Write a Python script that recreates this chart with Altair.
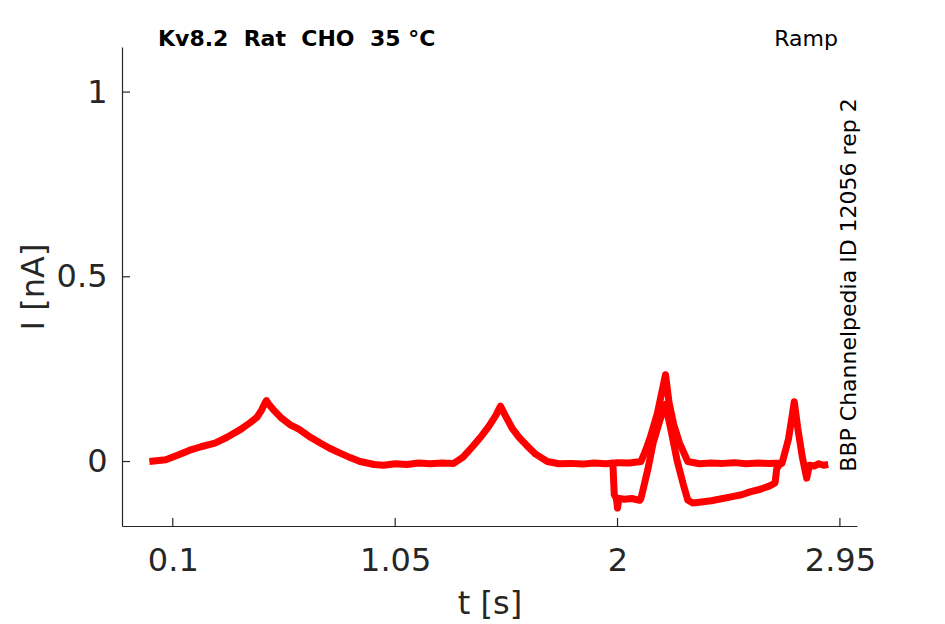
import altair as alt
import pandas as pd

# Trace A (full sweep)
tA = [0.0, 0.03, 0.07, 0.12, 0.17, 0.22, 0.28, 0.33, 0.39, 0.43, 0.46, 0.48, 0.495, 0.5, 0.51, 0.53,
      0.56, 0.60, 0.64, 0.69, 0.73, 0.77, 0.81, 0.86, 0.90, 0.96, 1.0, 1.05, 1.1, 1.15, 1.2, 1.25,
      1.30, 1.34, 1.38, 1.42, 1.45, 1.48, 1.50, 1.52, 1.55, 1.58, 1.61, 1.65, 1.70, 1.75, 1.8,
      1.85, 1.9, 1.95, 2.0, 2.05, 2.1, 2.12, 2.14, 2.17, 2.19, 2.205, 2.22, 2.24, 2.265, 2.3,
      2.35, 2.4, 2.45, 2.5, 2.55, 2.6, 2.65, 2.703, 2.73, 2.745, 2.755, 2.77, 2.79, 2.808, 2.82,
      2.84, 2.86, 2.88, 2.9]
iA = [0.0, 0.002, 0.005, 0.017, 0.03, 0.04, 0.05, 0.065, 0.087, 0.105, 0.12, 0.14, 0.16, 0.165, 0.155, 0.14,
      0.12, 0.10, 0.087, 0.065, 0.05, 0.036, 0.024, 0.01, 0.0, -0.008, -0.01, -0.006, -0.008, -0.004, -0.006, -0.004,
      -0.005, 0.012, 0.04, 0.07, 0.095, 0.125, 0.15, 0.125, 0.09, 0.065, 0.045, 0.02, 0.0, -0.006, -0.005,
      -0.007, -0.004, -0.006, -0.003, -0.004, 0.0, 0.03, 0.066, 0.13, 0.19, 0.235, 0.16, 0.1, 0.05, 0.0,
      -0.006, -0.004, -0.005, -0.003, -0.006, -0.004, -0.005, -0.004, 0.06, 0.12, 0.162, 0.09, 0.01, -0.045, -0.01,
      -0.012, -0.006, -0.01, -0.008]

# Trace B (differs between about 1.98 s and 2.7 s)
tB = [1.97, 1.98, 1.986, 1.995, 2.0, 2.006, 2.03, 2.06, 2.095, 2.1, 2.13, 2.152, 2.18, 2.205,
      2.23, 2.254, 2.28, 2.3, 2.32, 2.35, 2.4, 2.45, 2.49, 2.53, 2.566, 2.61, 2.65, 2.673, 2.68, 2.69, 2.703]
iB = [-0.004, -0.005, -0.09, -0.1, -0.126, -0.1, -0.102, -0.1, -0.105, -0.1, -0.02, 0.05, 0.11, 0.155,
      0.08, 0.004, -0.06, -0.104, -0.112, -0.11, -0.106, -0.1, -0.095, -0.09, -0.082, -0.075, -0.066, -0.058, -0.02, -0.01, -0.004]

x_ticks = [0.1, 1.05, 2, 2.95]
y_ticks = [0, 0.5, 1]

NB = "\u00a0"
title_text = "Kv8.2" + NB * 2 + "Rat" + NB * 2 + "CHO" + NB * 2 + "35 °C"
protocol_text = "Ramp"
side_text = "BBP Channelpedia ID 12056 rep 2"

W, H = 735, 479
INK = "#262626"
FONT = "DejaVu Sans"

df = pd.concat([
    pd.DataFrame({"t": tA, "I": iA, "trace": "A"}),
    pd.DataFrame({"t": tB, "I": iB, "trace": "B"}),
])

xscale = alt.Scale(domain=[-0.117, 3.023], nice=False, zero=False)
yscale = alt.Scale(domain=[-0.1745, 1.122], nice=False, zero=False)

lines = alt.Chart(df).mark_line(color="#ff0000", strokeWidth=7, strokeJoin="round").encode(
    x=alt.X("t:Q", scale=xscale,
            axis=alt.Axis(values=x_ticks, labelExpr="'' + datum.value", title="t [s]", titleY=87,
                          titleBaseline="alphabetic", labelPadding=19)),
    y=alt.Y("I:Q", scale=yscale,
            axis=alt.Axis(values=y_ticks, labelExpr="'' + datum.value", title="I [nA]", titleX=-79,
                          titleBaseline="alphabetic", labelPadding=15)),
    detail="trace:N",
)

xt = alt.Chart(pd.DataFrame({"v": x_ticks})).mark_rule(color=INK, strokeWidth=1.2).encode(
    x=alt.X("v:Q", scale=xscale), y=alt.value(H), y2=alt.value(H - 8))
yt = alt.Chart(pd.DataFrame({"v": y_ticks})).mark_rule(color=INK, strokeWidth=1.2).encode(
    y=alt.Y("v:Q", scale=yscale), x=alt.value(0), x2=alt.value(8))

t1 = alt.Chart(pd.DataFrame({"s": [title_text]})).mark_text(
    font=FONT, fontSize=22, fontWeight="bold", color="black", align="left", baseline="alphabetic"
).encode(text="s:N", x=alt.value(36), y=alt.value(-1))
t2 = alt.Chart(pd.DataFrame({"s": [protocol_text]})).mark_text(
    font=FONT, fontSize=22, color="black", align="right", baseline="alphabetic"
).encode(text="s:N", x=alt.value(716), y=alt.value(-1))
t3 = alt.Chart(pd.DataFrame({"s": [side_text]})).mark_text(
    font=FONT, fontSize=22, color="black", align="center", baseline="middle", angle=270
).encode(text="s:N", x=alt.value(727), y=alt.value(238))

chart = alt.layer(lines, xt, yt, t1, t2, t3).properties(
    width=W, height=H,
    autosize=alt.AutoSizeParams(type="none"),
    padding={"left": 114, "top": 39, "right": 80, "bottom": 98},
).configure_view(stroke=None).configure_axis(
    grid=False, ticks=False, domainColor=INK, domainWidth=1.2,
    labelFont=FONT, labelFontSize=32, labelColor=INK,
    titleFont=FONT, titleFontSize=32, titleFontWeight="normal", titleColor=INK,
)

chart.save("out.html", embed_options={"renderer": "svg", "actions": False})
